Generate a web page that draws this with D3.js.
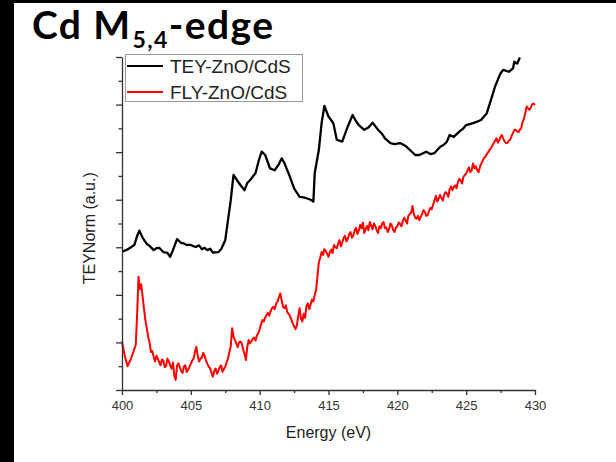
<!DOCTYPE html>
<html>
<head>
<meta charset="utf-8">
<script src="https://cdn.jsdelivr.net/npm/d3@7"></script>
<style>
  html, body { margin: 0; padding: 0; background: #fff; }
  svg { display: block; }
</style>
</head>
<body>
<svg id="chart" width="616" height="462"></svg>
<script>
// Cd M5,4-edge XAS spectra of ZnO/CdS: total electron yield and fluorescence yield
const xTicks = [400, 405, 410, 415, 420, 425, 430];
const xMinorTicks = [402.5, 407.5, 412.5, 417.5, 422.5, 427.5];
const yTicks = [0, 1, 2, 3, 4, 5, 6, 7];
const yMinorTicks = [0.5, 1.5, 2.5, 3.5, 4.5, 5.5, 6.5];
const seriesNames = ["TEY-ZnO/CdS", "FLY-ZnO/CdS"];
const seriesColors = ["#000000", "#ff0000"];

// TEY-ZnO/CdS: energy (eV) and normalised intensity (a.u.)
const teyEnergy = [400.0, 400.3, 400.6, 400.9, 401.1, 401.26, 401.5, 401.8, 402.0, 402.3, 402.5, 402.7, 403.0, 403.3, 403.5, 403.7, 404.0, 404.3, 404.5, 404.7, 405.0, 405.2, 405.4, 405.6, 405.8, 406.0, 406.2, 406.4, 406.6, 407.0, 407.2, 407.5, 407.7, 407.9, 408.1, 408.35, 408.6, 408.9, 409.1, 409.3, 409.7, 409.95, 410.15, 410.4, 410.75, 411.1, 411.4, 411.6, 411.8, 412.2, 412.5, 412.9, 413.2, 413.4, 413.7, 413.9, 414.0, 414.3, 414.5, 414.7, 415.0, 415.35, 415.6, 416.0, 416.4, 416.75, 417.0, 417.2, 417.6, 417.9, 418.2, 418.6, 418.9, 419.1, 419.5, 419.8, 420.2, 420.6, 420.9, 421.3, 421.6, 422.1, 422.4, 422.7, 423.1, 423.4, 423.6, 423.8, 424.1, 424.5, 424.8, 425.0, 425.5, 425.8, 426.1, 426.5, 426.8, 427.1, 427.5, 427.7, 428.1, 428.4, 428.5, 428.7, 428.9];
const teyValue = [2.91, 2.94, 2.99, 3.05, 3.24, 3.35, 3.20, 3.07, 3.03, 2.94, 2.98, 2.99, 2.90, 2.88, 2.80, 2.94, 3.17, 3.09, 3.08, 3.05, 3.05, 3.02, 3.01, 3.04, 2.96, 2.99, 2.94, 2.97, 2.89, 2.90, 2.96, 3.15, 3.57, 3.99, 4.52, 4.41, 4.31, 4.20, 4.35, 4.41, 4.56, 4.84, 5.01, 4.94, 4.66, 4.62, 4.75, 4.87, 4.77, 4.48, 4.24, 4.06, 4.05, 4.03, 4.00, 3.96, 4.56, 5.05, 5.61, 5.97, 5.75, 5.61, 5.26, 5.22, 5.54, 5.78, 5.65, 5.57, 5.47, 5.52, 5.62, 5.47, 5.38, 5.29, 5.19, 5.17, 5.19, 5.13, 5.05, 4.94, 4.94, 5.01, 4.96, 4.98, 5.11, 5.16, 5.22, 5.36, 5.32, 5.43, 5.50, 5.57, 5.61, 5.64, 5.68, 5.82, 6.10, 6.38, 6.66, 6.73, 6.69, 6.76, 6.90, 6.86, 6.99];

// FLY-ZnO/CdS: energy (eV) and normalised intensity (a.u.)
const flyEnergy = [400.0, 400.2, 400.4, 400.6, 400.8, 401.0, 401.1, 401.2, 401.3, 401.4, 401.5, 401.6, 401.7, 401.8, 401.9,
  402.0, 402.1, 402.2, 402.3, 402.4, 402.5, 402.6, 402.7, 402.8, 402.9, 403.0, 403.1, 403.2, 403.3, 403.4, 403.5, 403.6, 403.7, 403.8, 403.9,
  404.0, 404.1, 404.2, 404.3, 404.4, 404.5, 404.6, 404.7, 404.8, 404.9, 405.0, 405.1, 405.2, 405.3, 405.4, 405.5, 405.6, 405.7, 405.8, 405.9,
  406.0, 406.1, 406.2, 406.3, 406.4, 406.5, 406.6, 406.7, 406.8, 406.9, 407.0, 407.1, 407.2, 407.3, 407.4, 407.5, 407.6, 407.7, 407.8, 407.9,
  408.0, 408.1, 408.2, 408.3, 408.4, 408.5, 408.6, 408.7, 408.8, 408.9, 409.0, 409.1, 409.2, 409.3, 409.4, 409.5, 409.6, 409.7, 409.8, 409.9,
  410.0, 410.1, 410.2, 410.3, 410.4, 410.5, 410.6, 410.7, 410.8, 410.9, 411.0, 411.1, 411.2, 411.3, 411.4, 411.5, 411.6, 411.7, 411.8, 411.9,
  412.0, 412.1, 412.2, 412.3, 412.4, 412.5, 412.6, 412.7, 412.8, 412.9, 413.0, 413.1, 413.2, 413.3, 413.4, 413.5, 413.6, 413.7, 413.8, 413.9,
  414.0, 414.1, 414.2, 414.3, 414.4, 414.5, 414.6, 414.7, 414.8, 414.9, 415.0, 415.1, 415.2, 415.3, 415.4, 415.5, 415.6, 415.7, 415.8, 415.9,
  416.0, 416.1, 416.2, 416.3, 416.4, 416.5, 416.6, 416.7, 416.8, 416.9, 417.0, 417.1, 417.2, 417.3, 417.4, 417.5, 417.6, 417.7, 417.8, 417.9,
  418.0, 418.1, 418.2, 418.3, 418.4, 418.5, 418.6, 418.7, 418.8, 418.9, 419.0, 419.1, 419.2, 419.3, 419.4, 419.5, 419.6, 419.7, 419.8, 419.9,
  420.0, 420.1, 420.2, 420.3, 420.4, 420.5, 420.6, 420.7, 420.8, 420.9, 421.0, 421.1, 421.2, 421.3, 421.4, 421.5, 421.6, 421.7, 421.8, 421.9,
  422.0, 422.1, 422.2, 422.3, 422.4, 422.5, 422.6, 422.7, 422.8, 422.9, 423.0, 423.1, 423.2, 423.3, 423.4, 423.5, 423.6, 423.7, 423.8, 423.9,
  424.0, 424.1, 424.2, 424.3, 424.4, 424.5, 424.6, 424.7, 424.8, 424.9, 425.0, 425.1, 425.2, 425.3, 425.4, 425.5, 425.6, 425.7, 425.8, 425.9,
  426.0, 426.1, 426.2, 426.3, 426.4, 426.5, 426.6, 426.7, 426.8, 426.9, 427.0, 427.1, 427.2, 427.3, 427.4, 427.5, 427.6, 427.7, 427.8, 427.9,
  428.0, 428.1, 428.2, 428.3, 428.4, 428.5, 428.6, 428.7, 428.8, 428.9, 429.0, 429.1, 429.2, 429.3, 429.4, 429.5, 429.6, 429.7, 429.8, 429.9, 430.0];
const flyValue = [1.02, 0.72, 0.50, 0.62, 0.78, 0.95, 1.60, 2.38, 2.12, 2.22, 1.96, 1.70, 1.47, 1.30, 1.12,
  1.00, 0.80, 0.82, 0.70, 0.60, 0.72, 0.66, 0.58, 0.52, 0.64, 0.62, 0.48, 0.50, 0.66, 0.60, 0.52, 0.45, 0.58, 0.30, 0.21,
  0.52, 0.56, 0.48, 0.40, 0.36, 0.50, 0.52, 0.38, 0.42, 0.49, 0.55, 0.62, 0.66, 0.80, 0.91, 0.72, 0.60, 0.66, 0.68, 0.78,
  0.72, 0.62, 0.55, 0.49, 0.46, 0.36, 0.28, 0.40, 0.45, 0.34, 0.40, 0.48, 0.52, 0.38, 0.44, 0.49, 0.58, 0.66, 0.80, 0.92,
  1.30, 1.12, 1.05, 0.98, 0.90, 1.00, 1.02, 0.98, 0.85, 0.76, 0.63, 0.90, 1.05, 0.98, 1.02, 1.08, 1.10, 1.04, 1.15, 1.19,
  1.28, 1.38, 1.47, 1.44, 1.52, 1.58, 1.62, 1.56, 1.66, 1.72, 1.75, 1.70, 1.82, 1.86, 1.95, 2.03, 1.88, 1.75, 1.72, 1.78,
  1.64, 1.60, 1.56, 1.48, 1.40, 1.34, 1.28, 1.36, 1.55, 1.72, 1.50, 1.44, 1.60, 1.52, 1.76, 1.82, 1.70, 1.80, 1.90, 1.86,
  2.00, 2.10, 2.40, 2.69, 2.78, 2.90, 2.84, 2.96, 2.92, 2.86, 2.80, 2.90, 2.95, 2.88, 3.05, 3.00, 2.98, 3.08, 3.15, 3.02,
  3.10, 3.20, 3.24, 3.12, 3.18, 3.28, 3.32, 3.20, 3.25, 3.36, 3.41, 3.28, 3.35, 3.47, 3.40, 3.52, 3.30, 3.38, 3.45, 3.36,
  3.53, 3.46, 3.38, 3.50, 3.45, 3.36, 3.30, 3.44, 3.40, 3.50, 3.53, 3.40, 3.42, 3.32, 3.38, 3.50, 3.46, 3.36, 3.32, 3.42,
  3.44, 3.52, 3.49, 3.44, 3.55, 3.62, 3.57, 3.50, 3.66, 3.70, 3.72, 3.87, 3.70, 3.62, 3.60, 3.66, 3.57, 3.64, 3.70, 3.78,
  3.74, 3.66, 3.68, 3.76, 3.83, 3.80, 3.90, 3.98, 4.08, 3.96, 4.02, 4.10, 4.04, 3.98, 4.10, 4.16, 4.13, 4.06, 4.22, 4.28,
  4.20, 4.27, 4.30, 4.24, 4.37, 4.44, 4.40, 4.34, 4.48, 4.52, 4.55, 4.62, 4.68, 4.58, 4.62, 4.76, 4.66, 4.70, 4.62, 4.58,
  4.69, 4.76, 4.82, 4.88, 4.90, 4.96, 5.00, 5.05, 5.08, 5.14, 5.19, 5.24, 5.29, 5.20, 5.25, 5.32, 5.36, 5.28, 5.22, 5.19,
  5.19, 5.24, 5.26, 5.34, 5.40, 5.47, 5.47, 5.44, 5.42, 5.47, 5.50, 5.64, 5.70, 5.84, 5.96, 5.92, 5.89, 5.94, 6.01, 6.02, 5.99];

const svg = d3.select("#chart");
const W = 616, H = 462;
const margin = { left: 122, right: 81, top: 57, bottom: 72 };
const innerW = W - margin.left - margin.right;
const innerH = H - margin.top - margin.bottom;

svg.append("rect").attr("width", W).attr("height", H).attr("fill", "#fff");
// dark frame edges on the slide
svg.append("rect").attr("x", 0).attr("y", 0).attr("width", 14).attr("height", H).attr("fill", "#000");
svg.append("rect").attr("x", 0).attr("y", 0).attr("width", W).attr("height", 3).attr("fill", "#000");

const x = d3.scaleLinear().domain([400, 430]).range([margin.left, margin.left + innerW]);
const y = d3.scaleLinear().domain([0, 7]).range([margin.top + innerH, margin.top]);

// title with subscript
const title = svg.append("text")
  .attr("x", 32).attr("y", 38.5)
  .attr("font-family", "Lato, 'Noto Sans', sans-serif")
  .attr("font-weight", 700)
  .attr("font-size", 39)
  .attr("letter-spacing", 1.4)
  .attr("fill", "#000");
title.append("tspan").text("Cd M");
title.append("tspan").attr("font-size", 23).attr("dy", 9).attr("dx", 1).text("5,4");
title.append("tspan").attr("dy", -9).text("-edge");

const axisColor = "#333";
const fontAxis = "'Liberation Sans', Arial, sans-serif";

// curves
const line = d3.line().x(d => x(d[0])).y(d => y(d[1]));
const tey = teyEnergy.map((e, i) => [e, teyValue[i]]);
const fly = flyEnergy.map((e, i) => [e, flyValue[i]]);
[tey, fly].forEach((data, i) => {
  svg.append("path").datum(data)
    .attr("d", line)
    .attr("fill", "none")
    .attr("stroke", seriesColors[i])
    .attr("stroke-width", i === 0 ? 2.3 : 2)
    .attr("stroke-linejoin", "round");
});

// x axis
const gx = svg.append("g").attr("transform", `translate(0,${margin.top + innerH})`);
gx.call(d3.axisBottom(x).tickValues(xTicks).tickSize(5).tickSizeOuter(0).tickPadding(6).tickFormat(d3.format("d")));
const gxm = svg.append("g").attr("transform", `translate(0,${margin.top + innerH})`);
gxm.call(d3.axisBottom(x).tickValues(xMinorTicks).tickSize(3).tickSizeOuter(0).tickFormat(""));
gxm.select(".domain").remove();

// y axis
const gy = svg.append("g").attr("transform", `translate(${margin.left},0)`);
gy.call(d3.axisLeft(y).tickValues(yTicks).tickSize(6).tickSizeOuter(0).tickFormat(""));
const gym = svg.append("g").attr("transform", `translate(${margin.left},0)`);
gym.call(d3.axisLeft(y).tickValues(yMinorTicks).tickSize(3.5).tickSizeOuter(0).tickFormat(""));
gym.select(".domain").remove();

[gx, gxm, gy, gym].forEach(g => {
  g.selectAll("path, line").attr("stroke", axisColor).attr("stroke-width", 1.3);
  g.selectAll("text").attr("fill", axisColor).attr("font-size", 13).attr("font-family", fontAxis);
});

// axis titles
svg.append("text")
  .attr("x", x(415)).attr("y", 438)
  .attr("text-anchor", "middle")
  .attr("font-family", fontAxis).attr("font-size", 16).attr("fill", "#222")
  .text("Energy (eV)");
svg.append("text")
  .attr("transform", `translate(95,${y(3.4)}) rotate(-90)`)
  .attr("text-anchor", "middle")
  .attr("font-family", fontAxis).attr("font-size", 16).attr("fill", "#222")
  .text("TEYNorm (a.u.)");

// legend
const lg = svg.append("g");
lg.append("rect").attr("x", 125.5).attr("y", 54.5).attr("width", 177).attr("height", 47)
  .attr("fill", "#fff").attr("stroke", "#999").attr("stroke-width", 1);
seriesNames.forEach((name, i) => {
  const cy = 66 + i * 26;
  lg.append("line").attr("x1", 127).attr("x2", 163).attr("y1", cy).attr("y2", cy)
    .attr("stroke", seriesColors[i]).attr("stroke-width", 2);
  lg.append("text").attr("x", 170).attr("y", cy + 6.5)
    .attr("font-family", fontAxis).attr("font-size", 19).attr("fill", "#222")
    .text(name);
});
</script>
</body>
</html>
